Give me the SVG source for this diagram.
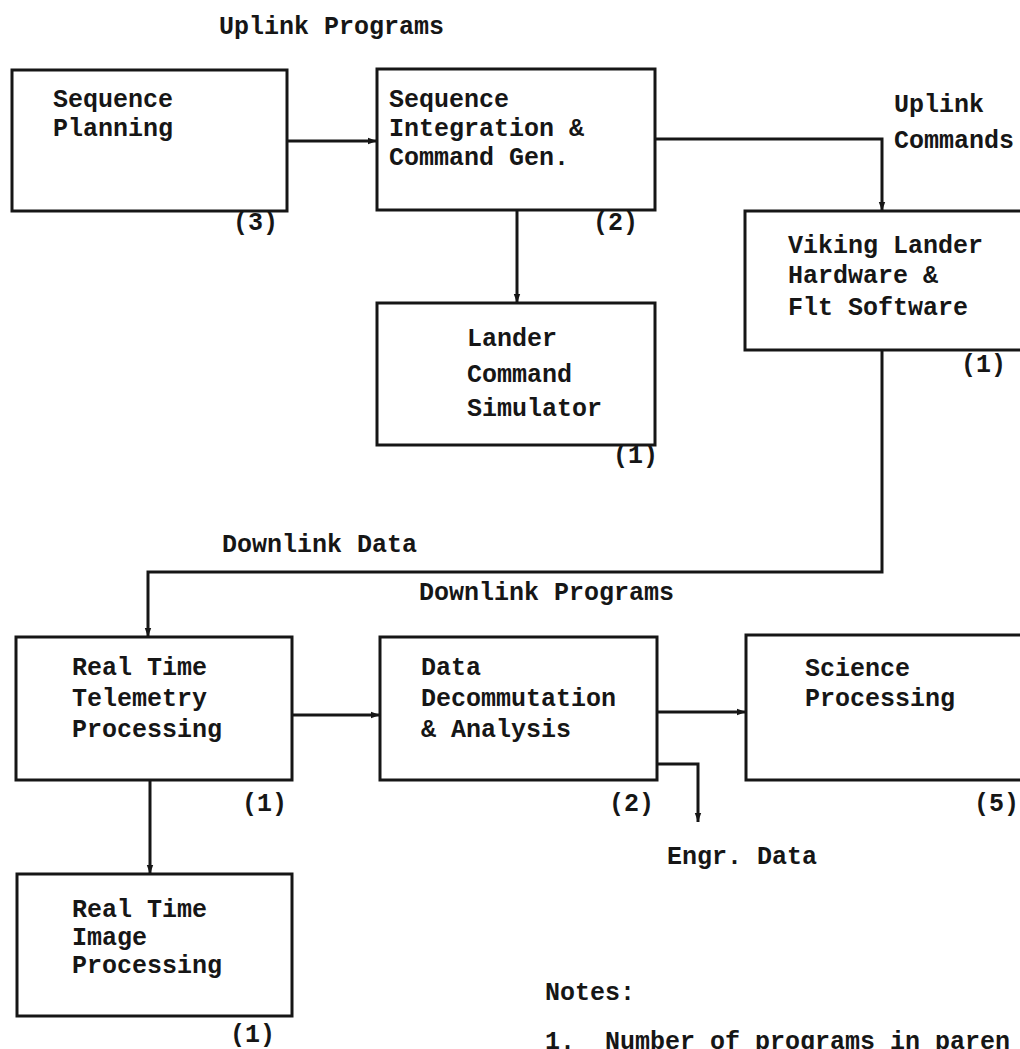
<svg xmlns="http://www.w3.org/2000/svg" width="1020" height="1049" viewBox="0 0 1020 1049">
  <defs>
    <style>
      .box { fill: none; stroke: #161616; stroke-width: 3; }
      .wire { fill: none; stroke: #161616; stroke-width: 3; }
      text { font-family: "Liberation Mono", "Courier New", monospace; font-size: 25px; font-weight: bold; fill: #161616; }
    </style>
    <marker id="head" markerWidth="10" markerHeight="8" refX="9" refY="4" orient="auto" markerUnits="userSpaceOnUse">
      <path d="M0,0.8 L9,4 L0,7.2 Z" fill="#161616"/>
    </marker>
  </defs>

  <rect width="1020" height="1049" fill="#ffffff"/>

  <!-- section captions -->
  <text x="219" y="34">Uplink Programs</text>
  <text x="894" y="112">Uplink</text>
  <text x="894" y="148">Commands</text>
  <text x="222" y="552">Downlink Data</text>
  <text x="419" y="600">Downlink Programs</text>
  <text x="667" y="864">Engr. Data</text>

  <!-- connectors -->
  <g id="connectors">
    <path class="wire" d="M287,141 H377" marker-end="url(#head)"/>
    <path class="wire" d="M655,139 H882 V211" marker-end="url(#head)"/>
    <path class="wire" d="M517,210 V303" marker-end="url(#head)"/>
    <path class="wire" d="M882,350 V572 H148 V637" marker-end="url(#head)"/>
    <path class="wire" d="M292,715 H380" marker-end="url(#head)"/>
    <path class="wire" d="M657,712 H746" marker-end="url(#head)"/>
    <path class="wire" d="M657,764 H698 V822" marker-end="url(#head)"/>
    <path class="wire" d="M150,780 V874" marker-end="url(#head)"/>
  </g>

  <!-- program blocks -->
  <g id="sequence-planning">
    <rect class="box" x="12" y="70" width="275" height="141"/>
    <text x="53" y="107">Sequence</text>
    <text x="53" y="136">Planning</text>
    <text x="233" y="230">(3)</text>
  </g>

  <g id="sequence-integration">
    <rect class="box" x="377" y="69" width="278" height="141"/>
    <text x="389" y="107">Sequence</text>
    <text x="389" y="136">Integration &amp;</text>
    <text x="389" y="165">Command Gen.</text>
    <text x="593" y="230">(2)</text>
  </g>

  <g id="viking-lander">
    <rect class="box" x="745" y="211" width="290" height="139"/>
    <text x="788" y="253">Viking Lander</text>
    <text x="788" y="283">Hardware &amp;</text>
    <text x="788" y="315">Flt Software</text>
    <text x="961" y="372">(1)</text>
  </g>

  <g id="command-simulator">
    <rect class="box" x="377" y="303" width="278" height="142"/>
    <text x="467" y="346">Lander</text>
    <text x="467" y="382">Command</text>
    <text x="467" y="416">Simulator</text>
    <text x="613" y="463">(1)</text>
  </g>

  <g id="telemetry-processing">
    <rect class="box" x="16" y="637" width="276" height="143"/>
    <text x="72" y="675">Real Time</text>
    <text x="72" y="706">Telemetry</text>
    <text x="72" y="737">Processing</text>
    <text x="242" y="811">(1)</text>
  </g>

  <g id="decommutation">
    <rect class="box" x="380" y="637" width="277" height="143"/>
    <text x="421" y="675">Data</text>
    <text x="421" y="706">Decommutation</text>
    <text x="421" y="737">&amp; Analysis</text>
    <text x="609" y="811">(2)</text>
  </g>

  <g id="science-processing">
    <rect class="box" x="746" y="635" width="290" height="145"/>
    <text x="805" y="676">Science</text>
    <text x="805" y="706">Processing</text>
    <text x="974" y="811">(5)</text>
  </g>

  <g id="image-processing">
    <rect class="box" x="17" y="874" width="275" height="142"/>
    <text x="72" y="917">Real Time</text>
    <text x="72" y="945">Image</text>
    <text x="72" y="973">Processing</text>
    <text x="230" y="1042">(1)</text>
  </g>

  <!-- notes -->
  <g id="notes">
    <text x="545" y="1000">Notes:</text>
    <text y="1049"><tspan x="545">1.</tspan><tspan x="605">Number of programs in paren</tspan></text>
  </g>
</svg>
